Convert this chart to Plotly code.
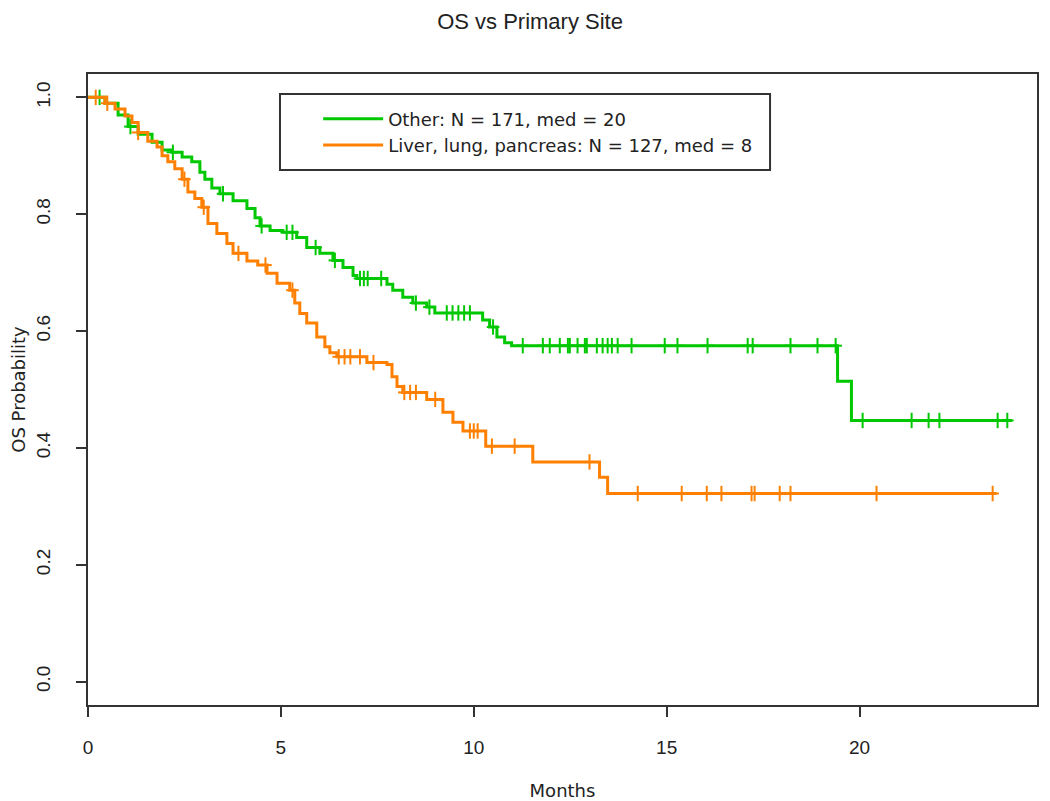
import plotly.graph_objects as go

# ---- data (months, survival probability) ----
other_time = [0, 0.44, 0.78, 1.04, 1.30, 1.66, 1.92, 2.18, 2.44, 2.69, 2.90, 3.03, 3.21, 3.42,
              3.76, 4.12, 4.33, 4.46, 4.72, 5.05, 5.41, 5.67, 6.01, 6.35, 6.61, 6.87, 6.97,
              7.75, 7.90, 8.16, 8.42, 8.78, 8.99, 10.23, 10.41, 10.60, 10.80, 10.98, 19.43, 19.79]
other_surv = [1.0, 0.99, 0.97, 0.95, 0.937, 0.923, 0.91, 0.906, 0.898, 0.89, 0.872, 0.86, 0.845, 0.835,
              0.823, 0.81, 0.794, 0.78, 0.772, 0.769, 0.76, 0.743, 0.733, 0.721, 0.709, 0.695, 0.69,
              0.68, 0.67, 0.658, 0.648, 0.641, 0.631, 0.619, 0.607, 0.59, 0.58, 0.575, 0.514, 0.447]
other_end = 23.95
other_censor = [0.3, 1.1, 2.2, 3.5, 4.5, 5.15, 5.3, 5.9, 6.4, 7.05, 7.15, 7.25, 7.6, 8.5, 8.85,
                9.3, 9.45, 9.6, 9.75, 9.9, 10.5, 11.27, 11.79, 11.97, 12.23, 12.44, 12.49, 12.69,
                12.88, 12.93, 13.19, 13.34, 13.47, 13.58, 13.73, 14.09, 14.95, 15.28, 16.06, 17.10,
                17.23, 18.21, 18.91, 19.38, 20.08, 21.35, 21.79, 22.07, 23.58, 23.83]

llp_time = [0, 0.44, 0.70, 0.96, 1.14, 1.30, 1.55, 1.79, 1.92, 2.07, 2.25, 2.44, 2.59, 2.77, 2.95,
            3.11, 3.34, 3.60, 3.76, 4.12, 4.40, 4.64, 4.90, 5.23, 5.36, 5.49, 5.67, 5.93, 6.14,
            6.27, 6.45, 7.23, 7.75, 7.88, 8.01, 8.16, 8.78, 9.20, 9.46, 9.72, 10.31, 11.53,
            13.26, 13.47]
llp_surv = [1.0, 0.99, 0.98, 0.968, 0.957, 0.94, 0.925, 0.915, 0.90, 0.89, 0.878, 0.86, 0.838, 0.827, 0.812,
            0.784, 0.767, 0.75, 0.733, 0.72, 0.713, 0.699, 0.682, 0.67, 0.648, 0.63, 0.614, 0.59, 0.573,
            0.563, 0.556, 0.546, 0.543, 0.522, 0.505, 0.495, 0.483, 0.461, 0.444, 0.429, 0.403, 0.376,
            0.350, 0.322]
llp_end = 23.55
llp_censor = [0.2, 0.5, 1.3, 2.5, 3.0, 3.9, 4.6, 5.3, 6.5, 6.65, 6.8, 7.05, 7.4, 8.2, 8.35, 8.5,
              9.0, 9.9, 10.0, 10.1, 10.47, 11.06, 13.0, 14.25, 15.39, 16.04, 16.42, 17.20, 17.28,
              17.93, 18.21, 20.44, 23.45]

x_ticks = [0, 5, 10, 15, 20]
y_ticks = [0.0, 0.2, 0.4, 0.6, 0.8, 1.0]

GREEN = "#00C800"
ORANGE = "#FF8000"
SANS = "Liberation Sans, Arial, sans-serif"
WIDE = "DejaVu Sans, sans-serif"


def surv_at(times, survs, t):
    s = survs[0]
    for ti, si in zip(times, survs):
        if ti <= t:
            s = si
        else:
            break
    return s


fig = go.Figure()

series = [
    ("Other: N = 171, med = 20", other_time, other_surv, other_end, other_censor, GREEN),
    ("Liver, lung, pancreas: N = 127, med = 8", llp_time, llp_surv, llp_end, llp_censor, ORANGE),
]

for name, t, s, end, cens, col in series:
    fig.add_trace(go.Scatter(
        x=t + [end], y=s + [s[-1]], mode="lines", line=dict(color=col, width=3, shape="hv"),
        name=name, showlegend=True, hoverinfo="skip"))
    ys = [surv_at(t, s, c) for c in cens]
    fig.add_trace(go.Scatter(
        x=cens, y=ys, mode="markers",
        marker=dict(symbol="line-ns", size=11, line=dict(color=col, width=2)),
        showlegend=False, hoverinfo="skip"))
    fig.add_trace(go.Scatter(
        x=cens, y=ys, mode="markers",
        marker=dict(symbol="line-ew", size=9, line=dict(color=col, width=2)),
        showlegend=False, hoverinfo="skip"))

axis_common = dict(
    showline=True, mirror=True, linecolor="#333333", linewidth=2,
    ticks="outside", ticklen=10, tickwidth=2, tickcolor="#333333",
    showgrid=False, zeroline=False, automargin=False,
    tickfont=dict(family=SANS, size=19, color="#222222"),
)

fig.update_xaxes(range=[0, 24.6], tickvals=x_ticks, ticktext=[str(v) for v in x_ticks],
                 ticklabelstandoff=14,
                 title=dict(text="Months", font=dict(family=WIDE, size=18, color="#222222"),
                            standoff=28),
                 **axis_common)
fig.update_yaxes(range=[-0.04, 1.04], tickvals=y_ticks, ticktext=[f"{v:.1f}" for v in y_ticks],
                 tickangle=-90, ticklabelstandoff=18,
                 title=dict(text="OS Probability", font=dict(family=WIDE, size=18, color="#222222"),
                            standoff=11),
                 **axis_common)

# the page body has an 8px margin; sizes compensate for it
fig.update_layout(
    width=1042, height=793,
    margin=dict(l=80, r=13, t=66, b=96, autoexpand=False),
    paper_bgcolor="white", plot_bgcolor="white",
    title=dict(text="OS vs Primary Site", x=0.501, xanchor="center", xref="container",
               y=0.9835, yanchor="middle", yref="container",
               font=dict(family=SANS, size=22, color="#222222")),
    legend=dict(x=0.2425, xanchor="left", y=0.958, yanchor="top",
                bgcolor="rgba(0,0,0,0)", borderwidth=0,
                font=dict(family=WIDE, size=18, color="#222222"),
                itemwidth=60, tracegroupgap=0),
    shapes=[dict(type="rect", xref="paper", yref="paper",
                 x0=0.2023, x1=0.7187, y0=0.8478, y1=0.9683,
                 line=dict(color="#333333", width=2), fillcolor="rgba(0,0,0,0)")],
)

fig.write_html("out.html")
